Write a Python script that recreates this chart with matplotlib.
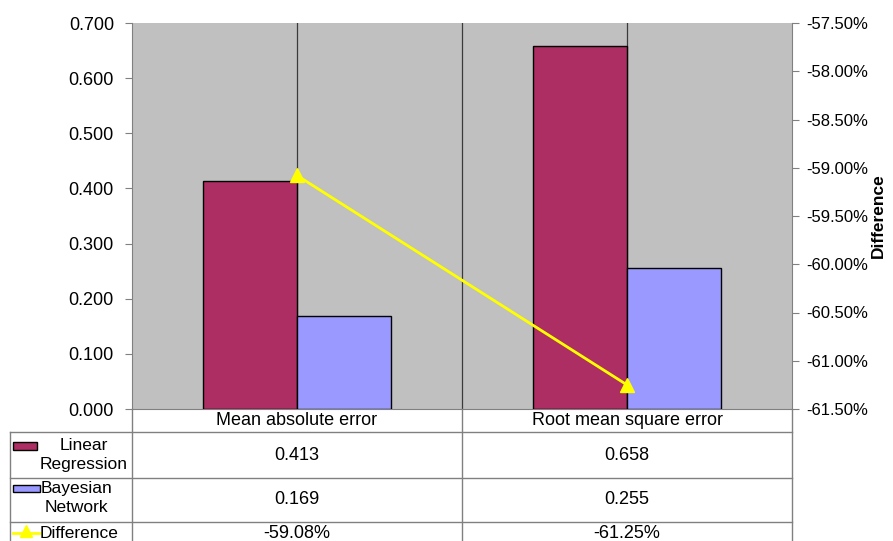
import matplotlib.pyplot as plt
from matplotlib.lines import Line2D
from matplotlib.patches import Rectangle

plt.rcParams["font.family"] = ["Liberation Sans", "DejaVu Sans"]

categories = ["Mean absolute error", "Root mean square error"]
linear_regression = [0.413, 0.658]
bayesian_network = [0.169, 0.255]
difference = [-59.08, -61.25]
series_names = ["Linear\nRegression", "Bayesian\nNetwork", "Difference"]

lr_color = "#AC2E62"
bn_color = "#9999FF"
diff_color = "#FFFF00"
grid_color = "#808080"

W, H = 893, 541
fig = plt.figure(figsize=(W / 100, H / 100), dpi=100)


def fx(x):
    return x / W


def fy(y):
    return 1 - y / H


# plot area in pixel coords
L, R, T, B = 132, 792, 23, 409
ax = fig.add_axes([fx(L), fy(B), fx(R) - fx(L), fy(T) - fy(B)])
ax.set_facecolor("#C0C0C0")

xs = list(range(len(categories)))
width = 0.285
ax.bar([x - width / 2 for x in xs], linear_regression, width,
       color=lr_color, edgecolor="black", linewidth=1, zorder=3)
ax.bar([x + width / 2 for x in xs], bayesian_network, width,
       color=bn_color, edgecolor="black", linewidth=1, zorder=3)

# vertical gridlines at category centres and dividers
for gx in [0, 0.5, 1]:
    ax.axvline(gx, color="#3a3a3a", linewidth=0.9, zorder=1)

ax.set_xlim(-0.5, len(categories) - 0.5)
ax.set_ylim(0, 0.7)
ax.set_yticks([i / 10 for i in range(8)])
ax.set_yticklabels([f"{i / 10:.3f}" for i in range(8)], fontsize=13)
ax.set_xticks([])
ax.tick_params(axis="y", direction="out", length=5, color=grid_color, pad=8)
for s in ["left", "bottom"]:
    ax.spines[s].set_color(grid_color)
ax.spines["top"].set_visible(False)
ax.spines["right"].set_visible(False)

ax2 = ax.twinx()
ax2.plot(xs, difference, color=diff_color, linewidth=2, marker="^",
         markersize=10, zorder=5)
ax2.set_ylim(-61.5, -57.5)
rt = [-61.5 + 0.5 * i for i in range(9)]
ax2.set_yticks(rt)
ax2.set_yticklabels([f"{v:.2f}%" for v in rt], fontsize=12)
ax2.tick_params(axis="y", direction="out", length=5, color=grid_color, pad=5)
ax2.spines["right"].set_color(grid_color)
for s in ["left", "top", "bottom"]:
    ax2.spines[s].set_visible(False)
fig.text(fx(878), fy((T + B) / 2), "Difference", rotation=90, ha="center",
         va="center", fontsize=12.5, fontweight="bold")

# data table below the plot
lc = grid_color
mid = (L + R) / 2
rows_y = [B, 432, 478, 522, 560]


def hline(y, x0, x1):
    fig.add_artist(Line2D([fx(x0), fx(x1)], [fy(y), fy(y)], color=lc, lw=1))


def vline(x, y0, y1):
    fig.add_artist(Line2D([fx(x), fx(x)], [fy(y0), fy(y1)], color=lc, lw=1))


for y in rows_y[1:4]:
    hline(y, 10, R)
vline(10, 432, 560)
vline(L, B, 560)
vline(mid, B, 560)
vline(R, B, 560)

col_centres = [(L + mid) / 2, (mid + R) / 2]
for cx, cat in zip(col_centres, categories):
    fig.text(fx(cx), fy((rows_y[0] + rows_y[1]) / 2), cat, ha="center",
             va="center", fontsize=13)

table_rows = [
    [f"{v:.3f}" for v in linear_regression],
    [f"{v:.3f}" for v in bayesian_network],
    [f"{v:.2f}%" for v in difference],
]
for r, vals in enumerate(table_rows):
    cy = (rows_y[r + 1] + rows_y[r + 2]) / 2
    if r == 2:
        cy = 533
    for cx, v in zip(col_centres, vals):
        fig.text(fx(cx), fy(cy), v, ha="center", va="center", fontsize=13)

# legend keys in first column
fig.add_artist(Rectangle((fx(13), fy(450)), fx(37) - fx(13), fy(442) - fy(450),
                         facecolor=lr_color, edgecolor="black", lw=1))
fig.text(fx(84), fy(455), series_names[0], ha="center", va="center",
         fontsize=12.5, linespacing=1.25)
fig.add_artist(Rectangle((fx(13), fy(492)), fx(40) - fx(13), fy(485) - fy(492),
                         facecolor=bn_color, edgecolor="black", lw=1))
fig.text(fx(76), fy(498), series_names[1], ha="center", va="center",
         fontsize=12.5, linespacing=1.25)
fig.add_artist(Line2D([fx(13), fx(39)], [fy(533), fy(533)], color=diff_color,
                      lw=2))
fig.add_artist(Line2D([fx(26)], [fy(531)], color=diff_color, marker="^",
                      markersize=9, markeredgecolor=diff_color))
fig.text(fx(40), fy(533), series_names[2], ha="left", va="center",
         fontsize=12.5)

fig.savefig("out.png", dpi=100)
